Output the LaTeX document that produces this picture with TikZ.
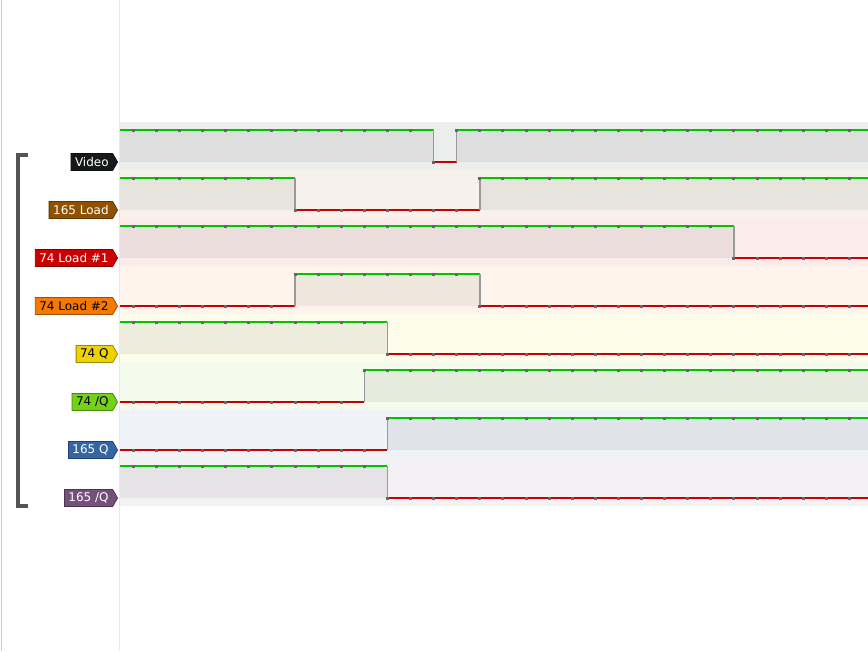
\documentclass[tikz,border=0pt]{standalone}
\usepackage{fontspec}
\usepackage{xcolor}
\usepackage{tikz}
\usetikzlibrary{shapes.symbols,positioning}
\newfontfamily\labelfont{DejaVu Sans}
\definecolor{vidblack}{HTML}{16191A}
\definecolor{tgbrown}{HTML}{8F5202}
\definecolor{tgred}{HTML}{CC0000}
\definecolor{tgorange}{HTML}{F57900}
\definecolor{tgyellow}{HTML}{EDD400}
\definecolor{tggreen}{HTML}{73D216}
\definecolor{tgblue}{HTML}{3465A4}
\definecolor{tgpurple}{HTML}{75507B}
\definecolor{higreen}{HTML}{00C400}
\definecolor{lored}{HTML}{C80000}
\tikzset{
  tag/.style={signal, signal to=east, signal pointer angle=120, anchor=east, minimum height=17, inner xsep=4, inner ysep=0, fill=#1, draw=#1!65!black, line width=0.8, font=\labelfont\fontsize{12}{13}\selectfont},
  rowbg/.style={fill=#1!8!white},
  hifill/.style={fill=#1!8!white!94!black},
  hiline/.style={draw=higreen, line width=1.3},
  loline/.style={draw=lored, line width=1.3},
  edge/.style={draw=black!40, line width=1.5},
  bracket/.style={draw=black!67, line width=4},
}
% sample position k
\newcommand\tx[1]{{133.3+#1*23.1}}
% sample dots
\newcommand\smp[2]{\foreach \k in {#1} \fill[black!60] (\tx{\k},#2) ++(-1.5,-1.5) rectangle ++(3,3);}
\begin{document}
\begin{tikzpicture}[x=1pt,y=-1pt]
  \useasboundingbox (0,0) rectangle (868,651);
  \fill[white] (0,0) rectangle (868,651);
  \draw[black!20] (0.7,0) -- (0.7,651);
  \draw[black!9] (119.5,0) -- (119.5,651);

  % Video
  \fill[rowbg=vidblack] (120,122) rectangle (868,170);
  \fill[hifill=vidblack] (120,130) rectangle (\tx{13},162);
  \fill[hifill=vidblack] (\tx{14},130) rectangle (868,162);
  \draw[hiline] (120,130) -- (\tx{13},130);
  \draw[loline] (\tx{13},162) -- (\tx{14},162);
  \draw[hiline] (\tx{14},130) -- (868,130);
  \draw[edge] (\tx{13},130) -- (\tx{13},162);
  \draw[edge] (\tx{14},162) -- (\tx{14},130);
  \smp{0,...,12}{130} \smp{13}{162} \smp{14,...,31}{130}

  % 165 Load
  \fill[rowbg=tgbrown] (120,170) rectangle (868,218);
  \fill[hifill=tgbrown] (120,178) rectangle (\tx{7},210);
  \fill[hifill=tgbrown] (\tx{15},178) rectangle (868,210);
  \draw[hiline] (120,178) -- (\tx{7},178);
  \draw[loline] (\tx{7},210) -- (\tx{15},210);
  \draw[hiline] (\tx{15},178) -- (868,178);
  \draw[edge] (\tx{7},178) -- (\tx{7},210);
  \draw[edge] (\tx{15},210) -- (\tx{15},178);
  \smp{0,...,6}{178} \smp{7,...,14}{210} \smp{15,...,31}{178}

  % 74 Load #1
  \fill[rowbg=tgred] (120,218) rectangle (868,266);
  \fill[hifill=tgred] (120,226) rectangle (\tx{26},258);
  \draw[hiline] (120,226) -- (\tx{26},226);
  \draw[loline] (\tx{26},258) -- (868,258);
  \draw[edge] (\tx{26},226) -- (\tx{26},258);
  \smp{0,...,25}{226} \smp{26,...,31}{258}

  % 74 Load #2
  \fill[rowbg=tgorange] (120,266) rectangle (868,314);
  \fill[hifill=tgorange] (\tx{7},274) rectangle (\tx{15},306);
  \draw[loline] (120,306) -- (\tx{7},306);
  \draw[hiline] (\tx{7},274) -- (\tx{15},274);
  \draw[loline] (\tx{15},306) -- (868,306);
  \draw[edge] (\tx{7},306) -- (\tx{7},274);
  \draw[edge] (\tx{15},274) -- (\tx{15},306);
  \smp{0,...,6}{306} \smp{7,...,14}{274} \smp{15,...,31}{306}

  % 74 Q
  \fill[rowbg=tgyellow] (120,314) rectangle (868,362);
  \fill[hifill=tgyellow] (120,322) rectangle (\tx{11},354);
  \draw[hiline] (120,322) -- (\tx{11},322);
  \draw[loline] (\tx{11},354) -- (868,354);
  \draw[edge] (\tx{11},322) -- (\tx{11},354);
  \smp{0,...,10}{322} \smp{11,...,31}{354}

  % 74 /Q
  \fill[rowbg=tggreen] (120,362) rectangle (868,410);
  \fill[hifill=tggreen] (\tx{10},370) rectangle (868,402);
  \draw[loline] (120,402) -- (\tx{10},402);
  \draw[hiline] (\tx{10},370) -- (868,370);
  \draw[edge] (\tx{10},402) -- (\tx{10},370);
  \smp{0,...,9}{402} \smp{10,...,31}{370}

  % 165 Q
  \fill[rowbg=tgblue] (120,410) rectangle (868,458);
  \fill[hifill=tgblue] (\tx{11},418) rectangle (868,450);
  \draw[loline] (120,450) -- (\tx{11},450);
  \draw[hiline] (\tx{11},418) -- (868,418);
  \draw[edge] (\tx{11},450) -- (\tx{11},418);
  \smp{0,...,10}{450} \smp{11,...,31}{418}

  % 165 /Q
  \fill[rowbg=tgpurple] (120,458) rectangle (868,506);
  \fill[hifill=tgpurple] (120,466) rectangle (\tx{11},498);
  \draw[hiline] (120,466) -- (\tx{11},466);
  \draw[loline] (\tx{11},498) -- (868,498);
  \draw[edge] (\tx{11},466) -- (\tx{11},498);
  \smp{0,...,10}{466} \smp{11,...,31}{498}

  % labels
  \node[tag=vidblack, text=white] (video) at (118,162) {Video};
  \node[tag=tgbrown, text=white] (load165) at (118,210) {165 Load};
  \node[tag=tgred, text=white] (loadone) at (118,258) {74 Load \#1};
  \node[tag=tgorange, text=black] (loadtwo) at (118,306) {74 Load \#2};
  \node[tag=tgyellow, text=black] (q74) at (118,354) {74 Q};
  \node[tag=tggreen, text=black] (nq74) at (118,402) {74 /Q};
  \node[tag=tgblue, text=white] (q165) at (118,450) {165 Q};
  \node[tag=tgpurple, text=white] (nq165) at (118,498) {165 /Q};

  % group bracket
  \draw[bracket] (28,155) -- (18,155) -- (18,506) -- (28,506);
\end{tikzpicture}
\end{document}
